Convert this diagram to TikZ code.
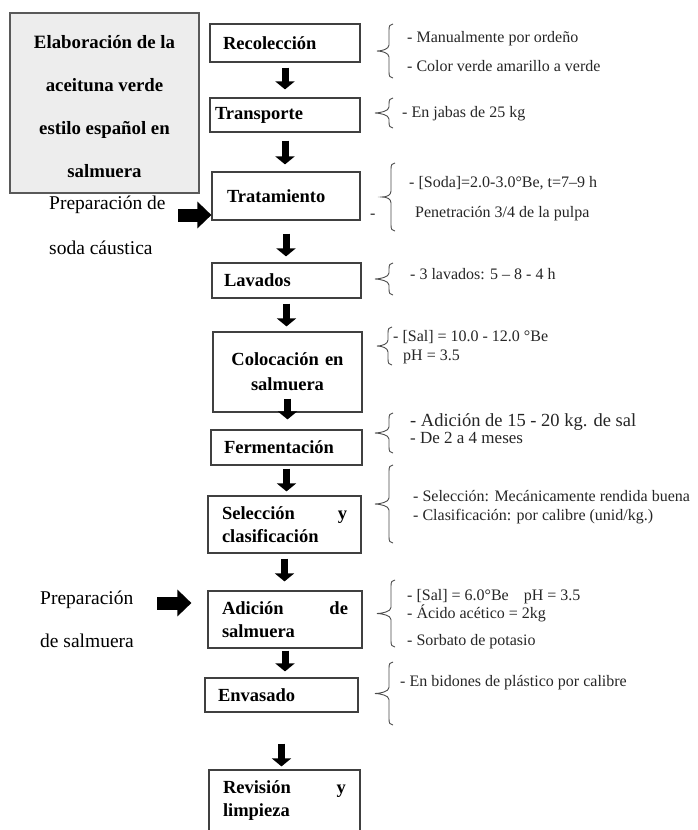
\documentclass[tikz,border=0pt]{standalone}
\usepackage{fontspec}
\setmainfont{Liberation Serif}
\usetikzlibrary{arrows.meta}

% curly brace opening to the right: right x, top y, bottom y, tip x (y given downwards)
\newcommand\annbrace[4]{%
  \draw[bracestyle] (#1,-#2) .. controls ({#1-3},-#2) and ({#1-4},{-#2-2}) .. ({#1-4},{-#2-6})
    -- ({#1-4},{-(#2+#3)/2+6}) .. controls ({#1-4},{-(#2+#3)/2+2}) and ({#4+5},{-(#2+#3)/2}) .. (#4,{-(#2+#3)/2})
    .. controls ({#4+5},{-(#2+#3)/2}) and ({#1-4},{-(#2+#3)/2-2}) .. ({#1-4},{-(#2+#3)/2-6})
    -- ({#1-4},{-#3+6}) .. controls ({#1-4},{-#3+2}) and ({#1-3},-#3) .. (#1,-#3);}

\tikzset{
  stepbox/.style={draw=black!75, line width=1.2pt, align=left, inner ysep=0pt,
    font=\bfseries\fontsize{18.5}{23}\selectfont},
  titlebox/.style={draw=black!65, fill=black!7, line width=1.2pt,
    minimum width=189pt, minimum height=180pt, inner sep=0pt},
  titletext/.style={align=center, inner sep=0pt,
    font=\bfseries\fontsize{18.8}{43}\selectfont},
  flow/.style={draw=black, line width=7pt, -{Triangle[width=19pt,length=8pt]}},
  fatarrow/.style={draw=black, line width=13pt, -{Triangle[width=26pt,length=14pt]}},
  sidetext/.style={anchor=base west, inner sep=0pt, font=\fontsize{19.5}{23}\selectfont},
  note/.style={anchor=base west, inner sep=0pt, text=black!85, font=\fontsize{16}{19}\selectfont},
  bracestyle/.style={draw=black!70, line width=0.9pt}
}

\begin{document}
\begin{tikzpicture}[x=1pt,y=1pt]
\clip (0,0) rectangle (697,-830);
\fill[white] (0,0) rectangle (697,-830);

% title
\node[titlebox] (title) at (104.5,-103) {};
\node[titletext] (titletxt) at (104.5,-106.5) {Elaboración de la\\aceituna verde\\estilo español en\\salmuera};

% process steps
\node[stepbox, minimum height=38pt, text width=124pt, inner xsep=13pt] (rec) at (285,-43) {Recolección};
\node[stepbox, minimum height=34pt, text width=140pt, inner xsep=5pt] (tra) at (285,-115) {Transporte};
\node[stepbox, minimum height=48pt, text width=118pt, inner xsep=15pt] (trat) at (286,-196) {Tratamiento};
\node[stepbox, minimum height=35pt, text width=125pt, inner xsep=12pt] (lav) at (286.5,-280.5) {Lavados};
\node[stepbox, minimum height=80pt, text width=133pt, inner xsep=8pt, align=center,
      font=\bfseries\fontsize{18.5}{25}\selectfont] (col) at (287.5,-372) {Colocación en\\salmuera};
\node[stepbox, minimum height=35pt, text width=125pt, inner xsep=13pt] (fer) at (286.5,-447.5) {Fermentación};
\node[stepbox, minimum height=57pt, text width=125pt, inner xsep=14pt] (sel) at (284.5,-524.5)
  {\makebox[125pt]{Selección\hfill y}\\clasificación};
\node[stepbox, minimum height=57pt, text width=126pt, inner xsep=14pt] (adi) at (285,-619.5)
  {\makebox[126pt]{Adición\hfill de}\\salmuera};
\node[stepbox, minimum height=34pt, text width=127pt, inner xsep=13pt] (env) at (281.5,-695) {Envasado};
\node[stepbox, minimum height=62pt, text width=123pt, inner xsep=14pt] (rev) at (284.5,-801)
  {\makebox[123pt]{Revisión\hfill y}\\limpieza};

% flow arrows
\draw[flow, shorten <=5pt, shorten >=8pt] (rec.south) -- (rec.south |- tra.north);
\draw[flow, shorten <=8pt, shorten >=7pt] (tra.south) -- (tra.south |- trat.north);
\draw[flow, shorten <=13pt, shorten >=6pt] (trat.south) -- (trat.south |- lav.north);
\draw[flow, shorten <=5pt, shorten >=5pt] (lav.south) -- (lav.south |- col.north);
\draw[flow, shorten >=10pt] ([yshift=14pt]col.south) -- (col.south |- fer.north);
\draw[flow, shorten <=3pt, shorten >=4pt] (fer.south) -- (fer.south |- sel.north);
\draw[flow, shorten <=5pt, shorten >=9pt] (sel.south) -- (sel.south |- adi.north);
\draw[flow, shorten <=2pt, shorten >=6pt] (adi.south) -- (adi.south |- env.north);
\draw[flow, shorten <=31pt, shorten >=3pt] (env.south) -- (env.south |- rev.north);

% inputs on the left
\node[sidetext] (soda1) at (49,-209.5) {Preparación de};
\node[sidetext] (soda2) at (49,-254.5) {soda cáustica};
\coordinate (sodaIn) at (178,-215);
\draw[fatarrow] (sodaIn) -- (sodaIn -| trat.west);

\node[sidetext] (salm1) at (40,-604.5) {Preparación};
\node[sidetext] (salm2) at (40,-647.5) {de salmuera};
\coordinate (salIn) at (157,-603);
\draw[fatarrow, shorten >=16pt] (salIn) -- (salIn -| adi.west);

% braces
\annbrace{393}{24}{78}{377}
\annbrace{393}{98}{128}{375}
\annbrace{395}{163}{231}{382}
\annbrace{393}{263}{295}{375}
\annbrace{392}{327}{365}{377}
\annbrace{393}{413}{453}{375}
\annbrace{393}{465}{543}{375}
\annbrace{395}{580}{647}{377}
\annbrace{393}{662}{725}{375}

% notes
\node[note] (n1a) at (407,-42.7) {- Manualmente por ordeño};
\node[note] (n1b) at (407,-71.7) {- Color verde amarillo a verde};
\node[note] (n2) at (402,-117.7) {- En jabas de 25 kg};
\node[note] (n3a) at (409,-187.7) {- [Soda]=2.0-3.0°Be, t=7–9 h};
\node[note] (n3b) at (415,-217.7) {Penetración 3/4 de la pulpa};
\node[note] (n3d) at (370,-218.7) {-};
\node[note] (n4) at (410,-279.7) {- 3 lavados: 5 – 8 - 4 h};
\node[note] (n5a) at (393,-341.7) {- [Sal] = 10.0 - 12.0 °Be};
\node[note] (n5b) at (403,-360.7) {pH = 3.5};
\node[note, font=\fontsize{18.5}{21}\selectfont] (n6a) at (410,-426.3) {- Adición de 15 - 20 kg. de sal};
\node[note, font=\fontsize{17}{20}\selectfont] (n6b) at (410,-443.9) {- De 2 a 4 meses};
\node[note] (n7a) at (413,-501.7) {- Selección: Mecánicamente rendida buena};
\node[note] (n7b) at (413,-520.7) {- Clasificación: por calibre (unid/kg.)};
\node[note] (n8a) at (407,-600.7) {- [Sal] = 6.0°Be\hspace{11pt} pH = 3.5};
\node[note] (n8b) at (407,-618.7) {- Ácido acético = 2kg};
\node[note] (n8c) at (407,-645.7) {- Sorbato de potasio};
\node[note] (n9) at (400,-686.7) {- En bidones de plástico por calibre};
\end{tikzpicture}
\end{document}
